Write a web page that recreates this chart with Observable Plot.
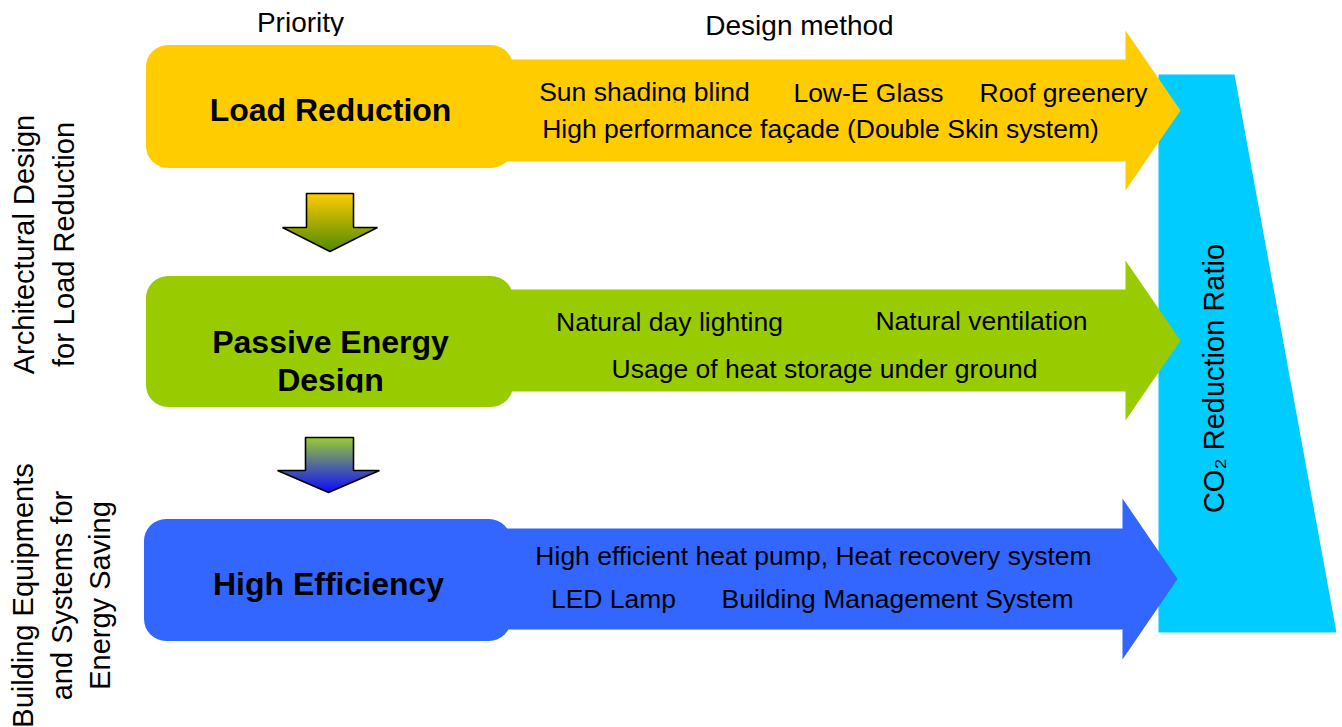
<!DOCTYPE html>
<html><head><meta charset="utf-8">
<script src="https://cdn.jsdelivr.net/npm/d3@7"></script>
<script src="https://cdn.jsdelivr.net/npm/@observablehq/plot@0.6"></script>
<style>html,body{margin:0;padding:0;background:#fff;overflow:hidden}</style>
</head><body><div id="chart"></div>
<script>
// ---- content (text only) ----
const headers = ["Priority", "Design method"];
const priorities = ["Load Reduction", "Passive Energy", "Design", "High Efficiency"];
const methods = [
  "Sun shading blind", "Low-E Glass", "Roof greenery",
  "High performance façade (Double Skin system)",
  "Natural day lighting", "Natural ventilation",
  "Usage of heat storage under ground",
  "High efficient heat pump, Heat recovery system",
  "LED Lamp", "Building Management System"
];
const sideLabels = [
  "Architectural Design", "for Load Reduction",
  "Building Equipments", "and Systems for", "Energy Saving"
];
const ratioLabel = "CO\u2082 Reduction Ratio";
const levelColors = ["#FFCC00", "#99CC00", "#3366FF"];
const ratioColor = "#00CCFF";

// ---- layout (pixel coordinates of the diagram) ----
const W = 1342, H = 727;
const FONT = "'Liberation Sans', Arial, sans-serif";
const boxes = [
  {x1: 146, x2: 513, y1: 45, y2: 168},
  {x1: 146, x2: 513, y1: 276, y2: 407},
  {x1: 144, x2: 511, y1: 519, y2: 641}
];
const bigArrows = [
  {x0: 480, xh: 1125, tip: 1180, bt: 59, bb: 161, ht: 30, hb: 190},
  {x0: 480, xh: 1125, tip: 1180, bt: 289, bb: 391, ht: 260, hb: 420},
  {x0: 480, xh: 1122, tip: 1177, bt: 528, bb: 629, ht: 498, hb: 659}
];
const smallArrows = [
  {sx1: 306, sx2: 353, sy: 193, hy: 227, hx1: 282, hx2: 377, tipY: 251, grad: "url(#gradA)"},
  {sx1: 305, sx2: 353, sy: 437, hy: 470, hx1: 277, hx2: 379, tipY: 492, grad: "url(#gradB)"}
];
const trapezoid = [[1158, 74], [1234, 74], [1336, 632], [1158, 632]];
const headerPos = [[300, 23], [799, 26]];
const priorityPos = [[330, 110], [330, 342], [330, 380], [328, 584]];
const methodPos = [
  [644, 92.5], [868, 93], [1063, 93], [820, 129.5],
  [669, 322], [981, 321.5], [824, 369.5],
  [813, 556.5], [613, 599.5], [897, 599.5]
];
const sidePos = [[24, 244], [64, 244], [23, 595], [62, 595], [100, 595]];
const ratioPos = [1214, 378];
// bottom edges of the text frames that crop some labels in the original
const textCrops = [
  {labels: ["Priority"], bottom: 35.5},
  {labels: ["Design method"], bottom: 40},
  {labels: ["Sun shading blind"], bottom: 102},
  {labels: ["Design"], bottom: 392}
];

// ---- build geometry tables from layout ----
function arrowPoly(a, id) {
  const c = (a.ht + a.hb) / 2;
  return [[a.x0, a.bt], [a.xh, a.bt], [a.xh, a.ht], [a.tip, c], [a.xh, a.hb], [a.xh, a.bb], [a.x0, a.bb]]
    .map(([x, y]) => ({x, y, id}));
}
function downArrowPoly(a, id) {
  const cx = (a.hx1 + a.hx2) / 2;
  return [[a.sx1, a.sy], [a.sx2, a.sy], [a.sx2, a.hy], [a.hx2, a.hy], [cx, a.tipY], [a.hx1, a.hy], [a.sx1, a.hy]]
    .map(([x, y]) => ({x, y, id}));
}

const marks = [];
// cyan CO2 trapezoid
marks.push(Plot.line(trapezoid.map(([x, y]) => ({x, y})), {x: "x", y: "y", fill: ratioColor, stroke: "none", curve: "linear-closed"}));
// big arrows
bigArrows.forEach((a, i) => {
  marks.push(Plot.line(arrowPoly(a, i), {x: "x", y: "y", fill: levelColors[i], stroke: "none", curve: "linear-closed"}));
});
// rounded priority boxes
boxes.forEach((b, i) => {
  marks.push(Plot.rect([b], {x1: "x1", x2: "x2", y1: "y1", y2: "y2", fill: levelColors[i], rx: 22, ry: 22}));
});
// small gradient arrows
smallArrows.forEach((a, i) => {
  marks.push(Plot.line(downArrowPoly(a, i), {x: "x", y: "y", fill: a.grad, stroke: "#000", strokeWidth: 1.6, strokeLinejoin: "miter", curve: "linear-closed"}));
});
// texts
const tx = (labels, pos) => labels.map((t, i) => ({t, x: pos[i][0], y: pos[i][1]}));
marks.push(Plot.text(tx(headers, headerPos), {x: "x", y: "y", text: "t", fontSize: 28, fontFamily: FONT, fill: "#000"}));
marks.push(Plot.text(tx(priorities, priorityPos), {x: "x", y: "y", text: "t", fontSize: 32, fontWeight: "bold", fontFamily: FONT, fill: "#000"}));
marks.push(Plot.text(tx(methods, methodPos), {x: "x", y: "y", text: "t", fontSize: 26.5, fontFamily: FONT, fill: "#000"}));
marks.push(Plot.text(tx(sideLabels, sidePos), {x: "x", y: "y", text: "t", fontSize: 29, fontFamily: FONT, fill: "#000", rotate: -90}));
marks.push(Plot.text([{t: ratioLabel, x: ratioPos[0], y: ratioPos[1]}], {x: "x", y: "y", text: "t", fontSize: 29, fontFamily: FONT, fill: "#000", rotate: -90}));

const svg = Plot.plot({
  width: W, height: H, margin: 0,
  x: {domain: [0, W], range: [0, W], axis: null},
  y: {domain: [0, H], range: [0, H], axis: null},
  style: {background: "#fff", overflow: "hidden"},
  marks
});

// gradients for the small arrows
const defs = d3.select(svg).insert("defs", ":first-child");
const gA = defs.append("linearGradient").attr("id", "gradA").attr("x1", 0).attr("y1", 0).attr("x2", 0).attr("y2", 1);
gA.append("stop").attr("offset", "0%").attr("stop-color", "#FFCC00");
gA.append("stop").attr("offset", "100%").attr("stop-color", "#4F8A00");
const gB = defs.append("linearGradient").attr("id", "gradB").attr("x1", 0).attr("y1", 0).attr("x2", 0).attr("y2", 1);
gB.append("stop").attr("offset", "0%").attr("stop-color", "#99CC33");
gB.append("stop").attr("offset", "100%").attr("stop-color", "#0A0AFF");

// crop labels whose text frame cuts their descenders
textCrops.forEach((c, k) => {
  const id = "crop" + k;
  defs.append("clipPath").attr("id", id)
    .append("rect").attr("x", -10).attr("y", -10).attr("width", W + 20).attr("height", c.bottom + 10);
  d3.select(svg).selectAll("text").filter(function () { return c.labels.includes(this.textContent); })
    .each(function () {
      const g = document.createElementNS("http://www.w3.org/2000/svg", "g");
      g.setAttribute("clip-path", `url(#${id})`);
      this.parentNode.insertBefore(g, this);
      g.appendChild(this);
    });
});

document.getElementById("chart").appendChild(svg);
</script></body></html>
